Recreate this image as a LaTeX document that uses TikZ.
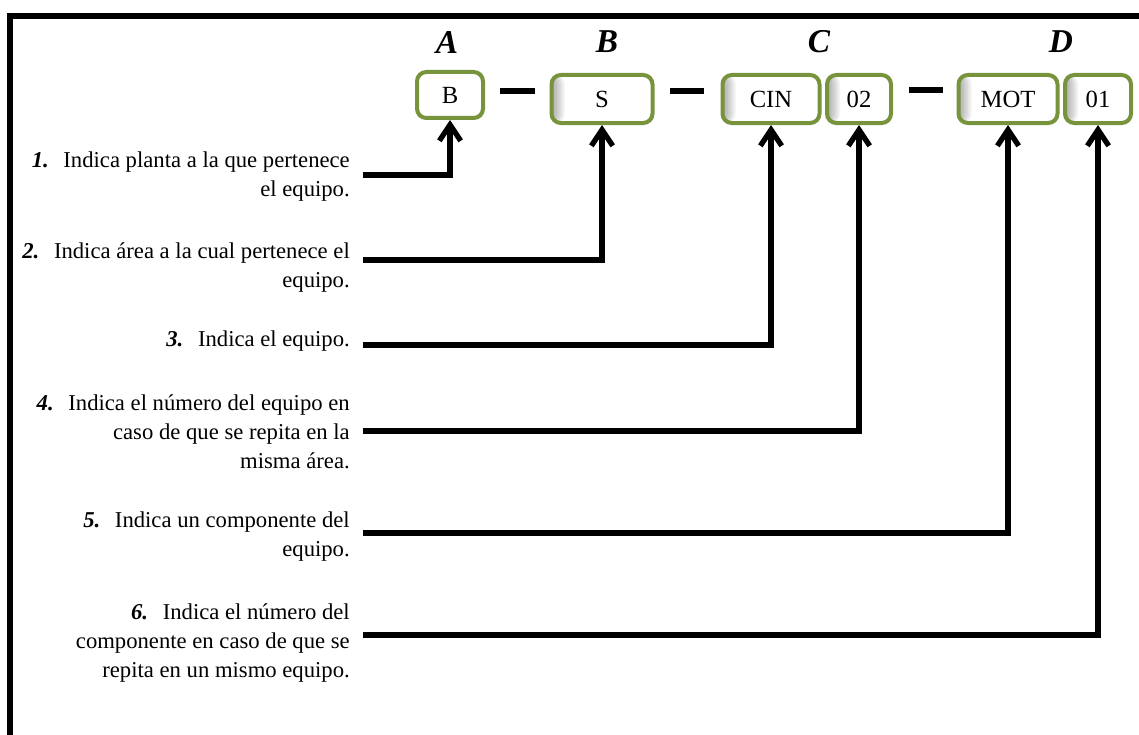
\documentclass[tikz,border=0pt]{standalone}
\usepackage{fontspec}
\setmainfont{Liberation Serif}
\usetikzlibrary{arrows.meta,calc}
\definecolor{boxgreen}{HTML}{77933C}
\newcommand\itemno[1]{\textbf{\textit{#1}}\hspace{11pt}}
\begin{document}
\begin{tikzpicture}[x=0.75pt,y=-0.75pt,
  codebox/.style={draw=boxgreen, line width=3pt, rounded corners=7pt, fill=white,
    minimum height=36pt, inner sep=0pt, font=\fontsize{18.5}{20}\selectfont},
  % soft inner shadow along the left edge, built from stacked translucent strips
  shadedbox/.style={codebox, path picture={
    \foreach \w in {1,...,10}
      \fill[black, opacity=0.035]
        (path picture bounding box.north west) rectangle
        ([xshift=\w pt]path picture bounding box.south west);}},
  grouplabel/.style={font=\fontsize{25}{28}\selectfont\bfseries\itshape, inner sep=0pt},
  note/.style={anchor=east, align=right, font=\fontsize{17}{21.75}\selectfont, inner sep=0pt},
  leader/.style={line width=4pt, -{Straight Barb[length=12pt,width=16pt]}},
  sep/.style={line width=4.5pt}
]
\useasboundingbox (0,0) rectangle (1139,735);

% outer frame (open to the right and bottom)
\draw[line width=4pt] (1150,16) -- (10,16) -- (10,750);

% code boxes
\node[codebox, minimum width=49.5pt, minimum height=34.5pt] (bB) at (450,95) {B};
\node[shadedbox, minimum width=75.75pt] (bS) at (602,99) {S};
\node[shadedbox, minimum width=72.75pt] (bCIN) at (771,99) {CIN};
\node[shadedbox, minimum width=48pt] (b02) at (859,99) {02};
\node[shadedbox, minimum width=74.25pt] (bMOT) at (1008,99) {MOT};
\node[shadedbox, minimum width=49.5pt] (b01) at (1098,99) {01};

% separators
\draw[sep] (500,91) -- (535,91);
\draw[sep] (670,91) -- (704,91);
\draw[sep] (909,90) -- (943,90);

% group letters
\node[grouplabel] (lA) at (447,42) {A};
\node[grouplabel] (lB) at (607,42) {B};
\node[grouplabel] (lC) at (819,42) {C};
\node[grouplabel] (lD) at (1061,42) {D};

% explanations
\node[note] (n1) at (350,177) {\itemno{1.}Indica planta a la que pertenece\\el equipo.};
\node[note] (n2) at (350,268) {\itemno{2.}Indica área a la cual pertenece el\\equipo.};
\node[note] (n3) at (350,341) {\itemno{3.}Indica el equipo.};
\node[note] (n4) at (350,432) {\itemno{4.}Indica el número del equipo en\\caso de que se repita en la\\misma área.};
\node[note] (n5) at (350,537) {\itemno{5.}Indica un componente del\\equipo.};
\node[note] (n6) at (350,643) {\itemno{6.}Indica el número del\\componente en caso de que se\\repita en un mismo equipo.};

% leader lines
\coordinate (s1) at (363,175);
\coordinate (s2) at (363,260);
\coordinate (s3) at (363,345);
\coordinate (s4) at (363,431);
\coordinate (s5) at (363,533);
\coordinate (s6) at (363,635);
\draw[leader] (s1) -| (bB.south);
\draw[leader] (s2) -| (bS.south);
\draw[leader] (s3) -| (bCIN.south);
\draw[leader] (s4) -| (b02.south);
\draw[leader] (s5) -| (bMOT.south);
\draw[leader] (s6) -| (b01.south);
\end{tikzpicture}
\end{document}
